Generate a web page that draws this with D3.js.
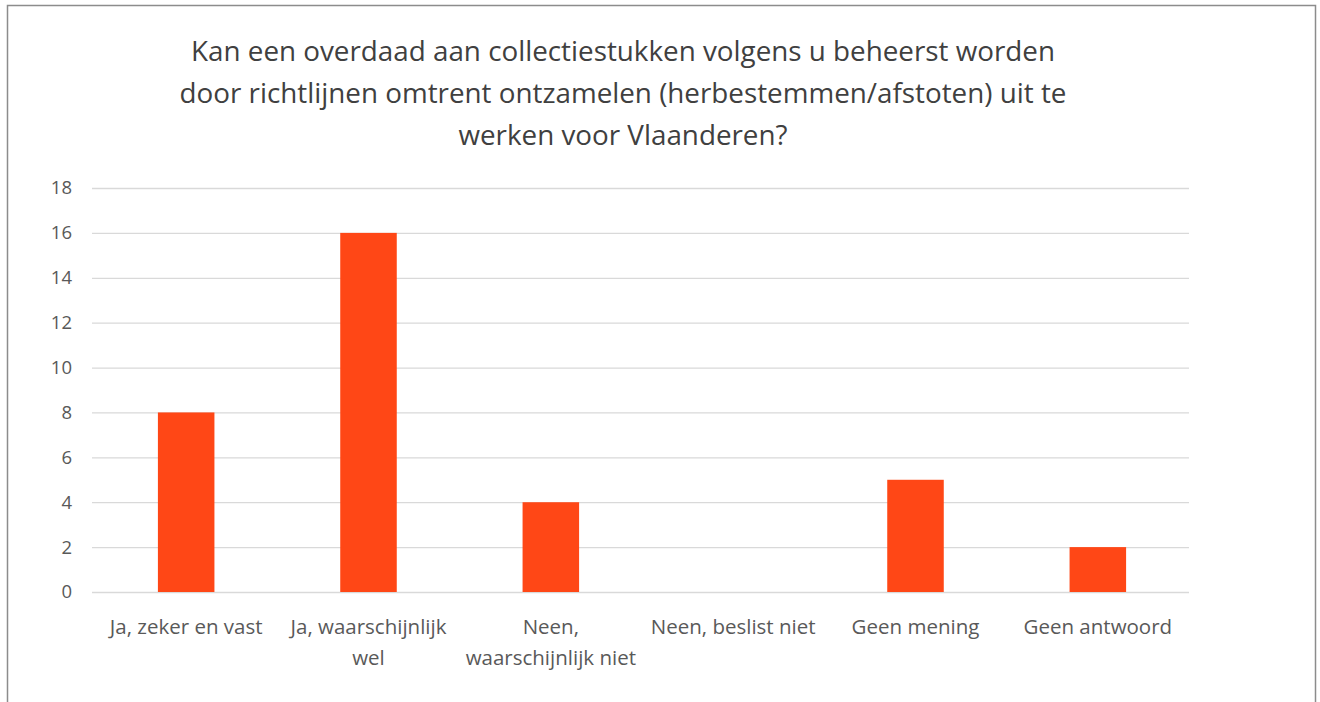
<!DOCTYPE html>
<html><head><meta charset="utf-8">
<script src="https://cdn.jsdelivr.net/npm/d3@7"></script>
<style>body{margin:0;background:#fff;}svg{display:block;}</style>
</head><body>
<svg id="c" width="1320" height="702"></svg>
<script>
const titleLines = ["Kan een overdaad aan collectiestukken volgens u beheerst worden",
  "door richtlijnen omtrent ontzamelen (herbestemmen/afstoten) uit te",
  "werken voor Vlaanderen?"];
const categories = ["Ja, zeker en vast", "Ja, waarschijnlijk wel", "Neen, waarschijnlijk niet", "Neen, beslist niet", "Geen mening", "Geen antwoord"];
const categoryLines = [["Ja, zeker en vast"], ["Ja, waarschijnlijk", "wel"], ["Neen,", "waarschijnlijk niet"], ["Neen, beslist niet"], ["Geen mening"], ["Geen antwoord"]];
const values = [8, 16, 4, 0, 5, 2];
const yTicks = [0, 2, 4, 6, 8, 10, 12, 14, 16, 18];

const svg = d3.select("#c");
const font = "'Open Sans', 'Liberation Sans', sans-serif";
svg.append("rect").attr("x", 7.5).attr("y", 5.5).attr("width", 1308).attr("height", 720)
  .attr("fill", "#fff").attr("stroke", "#8c8c8c").attr("stroke-width", 1.5);

const L = 95, R = 1189, T = 188, B = 592;
const x = d3.scaleBand().domain(categories).range([L, R]).paddingInner(0.69).paddingOuter(0.345);
const y = d3.scaleLinear().domain([0, 18]).range([B, T]);

const yAxis = svg.append("g").attr("transform", `translate(${L - 3},0)`)
  .call(d3.axisLeft(y).tickValues(yTicks).tickSize(-(R - L + 3)).tickPadding(20));
yAxis.select(".domain").remove();
yAxis.selectAll(".tick line").attr("stroke", "#d9d9d9").attr("stroke-width", 1.3);
yAxis.selectAll(".tick text").attr("fill", "#595959").style("font-family", font).style("font-size", "18.5px");

svg.append("g").selectAll("rect").data(values).join("rect")
  .attr("x", (d, i) => x(categories[i]))
  .attr("width", x.bandwidth())
  .attr("y", d => y(d))
  .attr("height", d => B - y(d))
  .attr("fill", "#ff4716");

const xl = svg.append("g");
categoryLines.forEach((lines, i) => {
  const cx = x(categories[i]) + x.bandwidth() / 2;
  const t = xl.append("text").attr("x", cx).attr("y", 634)
    .attr("text-anchor", "middle").attr("fill", "#595959")
    .style("font-family", font).style("font-size", "20.5px");
  lines.forEach((ln, j) => t.append("tspan").attr("x", cx).attr("dy", j ? 30.5 : 0).text(ln));
});

const tt = svg.append("text").attr("text-anchor", "middle").attr("fill", "#404040")
  .style("font-family", font).style("font-size", "27.8px");
titleLines.forEach((ln, j) => tt.append("tspan").attr("x", 623).attr("y", 61 + j * 42).text(ln));
</script>
</body></html>
